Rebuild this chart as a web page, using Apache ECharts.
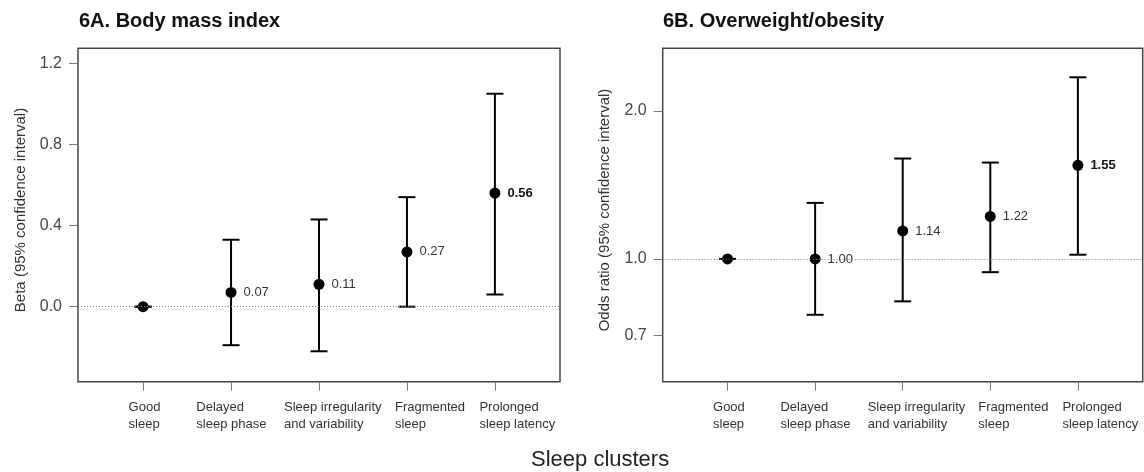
<!DOCTYPE html>
<html>
<head>
<meta charset="utf-8">
<script src="https://cdn.jsdelivr.net/npm/echarts@6/dist/echarts.min.js"></script>
<style>
  html, body { margin: 0; padding: 0; background: #fff; }
  #chart { width: 1144px; height: 472px; }
</style>
</head>
<body>
<div id="chart"></div>
<script>
// Sleep cluster categories, in plotting order (positions 1..5 on the x axis)
const clusters = [
  'Good\nsleep',
  'Delayed\nsleep phase',
  'Sleep irregularity\nand variability',
  'Fragmented\nsleep',
  'Prolonged\nsleep latency'
];

// 6A: beta estimates for body mass index, with 95% CI bounds
const bmiBeta  = [0.00, 0.07, 0.11, 0.27, 0.56];
const bmiLower = [0.00, -0.19, -0.22, 0.00, 0.06];
const bmiUpper = [0.00, 0.33, 0.43, 0.54, 1.05];

// 6B: odds ratios for overweight/obesity, with 95% CI bounds
const orValue = [1.00, 1.00, 1.14, 1.22, 1.55];
const orLower = [1.00, 0.77, 0.82, 0.94, 1.02];
const orUpper = [1.00, 1.30, 1.60, 1.57, 2.34];

// Estimates whose value label is printed in bold
const boldEstimate = [false, false, false, false, true];

// Tick labels for the two y axes
const bmiTicks = [0.0, 0.4, 0.8, 1.2];
const orTicks = [0.7, 1.0, 2.0];

// Reference lines (no effect)
const bmiNull = 0;
const orNull = 1;

// ---- layout / style ----
const FONT = '"Liberation Sans", Arial, Helvetica, sans-serif';
const X_MIN = 0.26, X_MAX = 5.74;
const BMI_MIN = -0.37, BMI_MAX = 1.274;
const OR_MIN = 0.563, OR_MAX = 2.68;
const CAP = 17;                 // error-bar cap width (px)
const LABEL_SHIFT = [-14.5, -34.7, -35, -12, -15.5]; // left edge of cluster label vs. tick
const LABEL_GAP = 17;           // gap between plot bottom and cluster label
const positions = clusters.map((_, i) => i + 1);

function errorBarItem(params, api) {
  const x = api.value(0);
  const lo = api.coord([x, api.value(1)]);
  const hi = api.coord([x, api.value(2)]);
  const h = CAP / 2;
  const style = { stroke: '#000', lineWidth: 2, fill: null };
  return {
    type: 'group',
    children: [
      { type: 'line', shape: { x1: lo[0], y1: lo[1], x2: hi[0], y2: hi[1] }, style },
      { type: 'line', shape: { x1: lo[0] - h, y1: lo[1], x2: lo[0] + h, y2: lo[1] }, style },
      { type: 'line', shape: { x1: hi[0] - h, y1: hi[1], x2: hi[0] + h, y2: hi[1] }, style }
    ]
  };
}

function clusterLabelItem(params, api) {
  const i = params.dataIndex;
  const p = api.coord([api.value(0), api.value(1)]);
  return {
    type: 'text',
    x: p[0] + LABEL_SHIFT[i],
    y: p[1] + LABEL_GAP,
    style: {
      text: clusters[i],
      fill: '#333',
      fontSize: 13,
      fontFamily: FONT,
      lineHeight: 17,
      align: 'left',
      verticalAlign: 'top'
    }
  };
}

function xAxisFor(gridIndex) {
  return {
    type: 'value', gridIndex, min: X_MIN, max: X_MAX,
    axisLine: { show: false, onZero: false },
    splitLine: { show: false },
    axisTick: { show: true, customValues: positions, length: 9, lineStyle: { color: '#777', width: 1 } },
    axisLabel: { show: false }
  };
}

function yAxisFor(gridIndex, opts) {
  return Object.assign({
    gridIndex,
    axisLine: { show: false, onZero: false },
    splitLine: { show: false },
    nameLocation: 'middle',
    nameGap: 50,
    nameTextStyle: { fontSize: 15, color: '#333', fontFamily: FONT, padding: [0, 0, 0, 10] }
  }, opts);
}

function panelSeries(idx, est, lower, upper, nullValue, yMin) {
  return [
    {
      type: 'line', xAxisIndex: idx, yAxisIndex: idx, data: [], z: 1, silent: true,
      markLine: {
        silent: true, symbol: ['none', 'none'], animation: false,
        label: { show: false },
        lineStyle: { type: [1, 2], color: '#7a7a7a', width: 1 },
        data: [{ yAxis: nullValue }]
      }
    },
    {
      type: 'custom', xAxisIndex: idx, yAxisIndex: idx, z: 3, silent: true,
      renderItem: errorBarItem,
      encode: { x: 0, y: [1, 2] },
      data: positions.map((x, i) => [x, lower[i], upper[i]])
    },
    {
      type: 'scatter', xAxisIndex: idx, yAxisIndex: idx, z: 4, silent: true,
      symbol: 'circle', symbolSize: 11,
      itemStyle: { color: '#000', opacity: 1 },
      label: {
        show: true, position: 'right', distance: 7,
        fontSize: 13, fontFamily: FONT, color: '#333',
        formatter: p => est[p.dataIndex].toFixed(2)
      },
      data: positions.map((x, i) => ({
        value: [x, est[i]],
        label: { show: i > 0, fontWeight: boldEstimate[i] ? 'bold' : 'normal', color: boldEstimate[i] ? '#111' : '#333' }
      }))
    },
    {
      type: 'custom', xAxisIndex: idx, yAxisIndex: idx, z: 2, silent: true, clip: false,
      renderItem: clusterLabelItem,
      data: positions.map(x => [x, yMin])
    }
  ];
}

const chart = echarts.init(document.getElementById('chart'), null, { renderer: 'canvas' });

const titleStyle = { fontSize: 20, fontWeight: 'bold', color: '#111', fontFamily: FONT };
const tickStyle = { show: true, length: 9, lineStyle: { color: '#777', width: 1 } };
const tickLabelStyle = { formatter: v => Number(v).toFixed(1), fontSize: 16, color: '#444', margin: 16, fontFamily: FONT };

chart.setOption({
  animation: false,
  backgroundColor: '#fff',
  textStyle: { fontFamily: FONT },
  title: [
    { text: '6A. Body mass index', left: 79, top: 11, padding: 0, textStyle: titleStyle },
    { text: '6B. Overweight/obesity', left: 663, top: 11, padding: 0, textStyle: titleStyle },
    { text: 'Sleep clusters', left: 531, top: 449, padding: 0,
      textStyle: { fontSize: 22, fontWeight: 'normal', color: '#222', fontFamily: FONT } }
  ],
  grid: [
    { left: 78, top: 48.3, width: 482, height: 333.4, show: true, borderColor: '#444', borderWidth: 1.5, backgroundColor: 'transparent' },
    { left: 662.7, top: 48.3, width: 480, height: 333.4, show: true, borderColor: '#444', borderWidth: 1.5, backgroundColor: 'transparent' }
  ],
  xAxis: [xAxisFor(0), xAxisFor(1)],
  yAxis: [
    yAxisFor(0, {
      type: 'value', min: BMI_MIN, max: BMI_MAX,
      name: 'Beta (95% confidence interval)',
      axisTick: Object.assign({ customValues: bmiTicks }, tickStyle),
      axisLabel: Object.assign({ customValues: bmiTicks }, tickLabelStyle)
    }),
    yAxisFor(1, {
      type: 'log', logBase: 10, min: OR_MIN, max: OR_MAX,
      name: 'Odds ratio (95% confidence interval)',
      axisTick: Object.assign({ customValues: orTicks }, tickStyle),
      axisLabel: Object.assign({ customValues: orTicks }, tickLabelStyle)
    })
  ],
  series: [
    ...panelSeries(0, bmiBeta, bmiLower, bmiUpper, bmiNull, BMI_MIN),
    ...panelSeries(1, orValue, orLower, orUpper, orNull, OR_MIN)
  ]
});
</script>
</body>
</html>
